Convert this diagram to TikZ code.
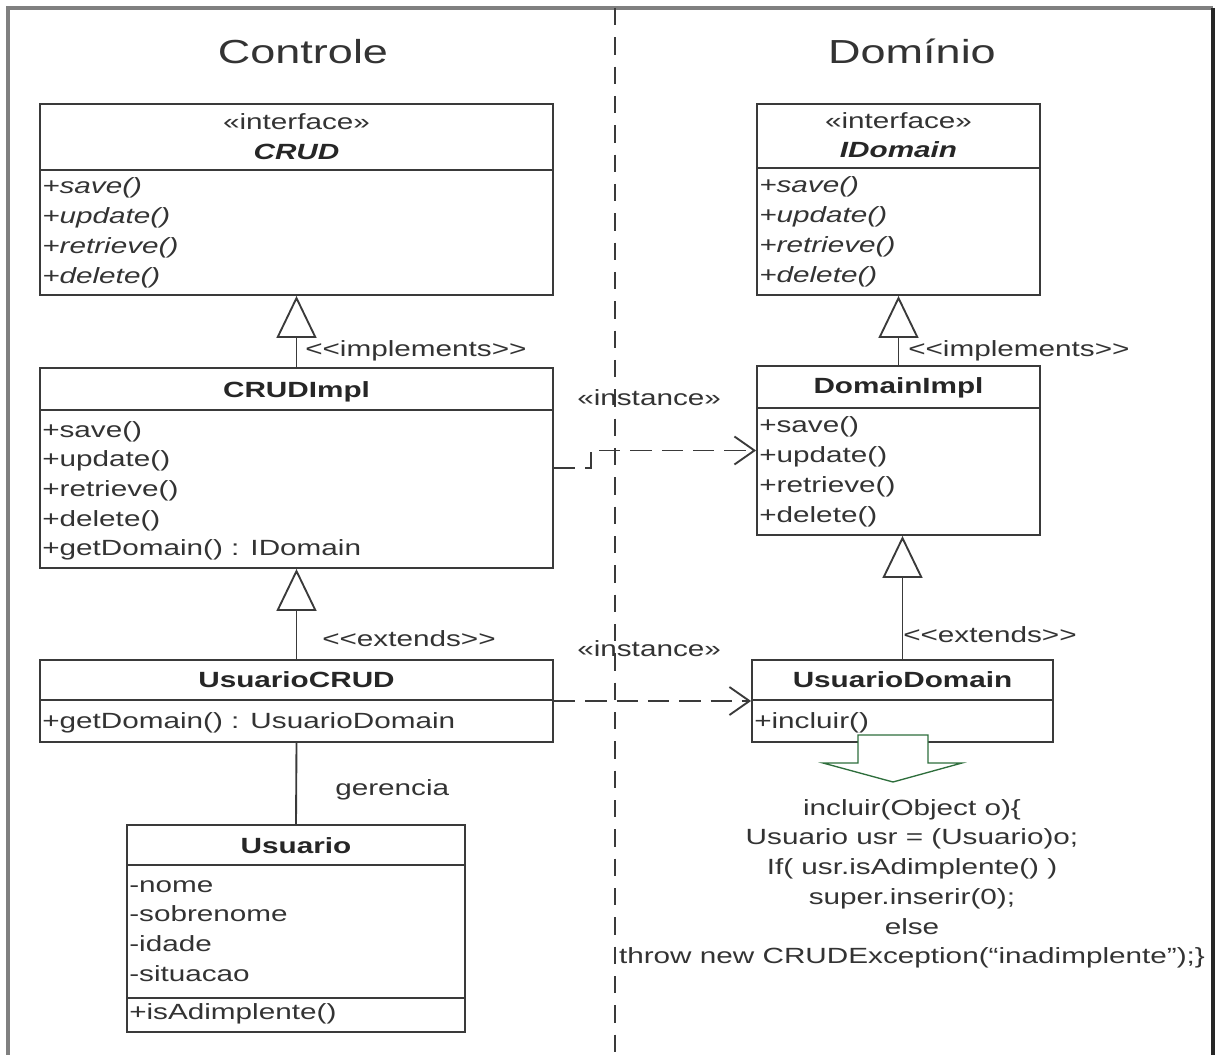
\documentclass[tikz,border=0pt]{standalone}
\usepackage{fontspec}
\setmainfont{Liberation Sans}[FakeStretch=1.35]
\usetikzlibrary{arrows.meta,fit}
\definecolor{ink}{HTML}{333333}
\definecolor{edge}{HTML}{3A3A3A}
\definecolor{framegray}{HTML}{808080}
\definecolor{arrowgreen}{RGB}{46,110,60}
\newcommand{\mfont}{\fontsize{16.5}{22.3}\selectfont}
\newcommand{\tfont}{\fontsize{25}{30}\selectfont}
% doubled angle brackets kept as two separate characters
\newcommand{\dlt}{<\kern0pt<}
\newcommand{\dgt}{>\kern0pt>}

\begin{document}
\begin{tikzpicture}[x=0.75pt,y=-0.75pt,
  cls/.style={draw=edge, line width=1.4pt, inner sep=0pt},
  part/.style={draw=edge, line width=1.4pt},
  mem/.style={anchor=base west, inner sep=0pt, font=\mfont, text=ink},
  head/.style={anchor=base, inner sep=0pt, font=\mfont, text=ink},
  cname/.style={anchor=base, inner sep=0pt, font=\mfont\bfseries, text=black!85},
  lbl/.style={anchor=base west, inner sep=0pt, font=\mfont, text=ink},
  title/.style={anchor=base, inner sep=0pt, font=\tfont, text=ink},
  gen/.style={draw=edge, line width=1.4pt, -{Triangle[open,length=31.5pt,width=30pt]}},
  assoc/.style={draw=edge, line width=1.4pt},
  dep/.style={draw=edge, line width=1.4pt, dash pattern=on 16pt off 7.5pt,
              -{Straight Barb[length=15pt,width=21pt]}},
]
\useasboundingbox (0,0) rectangle (1221,1055);

% outer frame and the dashed separator
\draw[framegray, line width=2.5pt] (8,1055) -- (8,8) -- (1213,8);
\draw[black!85, line width=2.5pt] (1213,8) -- (1213,1055);
\draw[edge, line width=1.5pt, dash pattern=on 13pt off 9pt] (615,8) -- (615,1055);

% column titles
\node[title] (tctl) at (303,64) {Controle};
\node[title] (tdom) at (912,64) {Domínio};

% ---------- Controle ----------
% CRUD interface
\node[cls, fit={(40,104)(553,295)}] (crud) {};
\draw[part] (40,170) -- (553,170);
\node[head] (crud-st) at (296.5,130) {«interface»};
\node[cname, font=\mfont\bfseries\itshape] (crud-n) at (296.5,160) {CRUD};
\foreach \t [count=\i] in {+save(),+update(),+retrieve(),+delete()}
  \node[mem, font=\mfont\itshape] (crud-\i) at (42,{194+29.7*(\i-1)}) {\t};

% CRUDImpl
\node[cls, fit={(40,368)(553,568)}] (crudimpl) {};
\draw[part] (40,410) -- (553,410);
\node[cname] (crudimpl-n) at (296.5,398) {CRUDImpl};
\foreach \t [count=\i] in {+save(),+update(),+retrieve(),+delete(),+getDomain() : IDomain}
  \node[mem] (crudimpl-\i) at (42,{437+29.7*(\i-1)}) {\t};

% UsuarioCRUD
\node[cls, fit={(40,660)(553,742)}] (ucrud) {};
\draw[part] (40,700) -- (553,700);
\node[cname] (ucrud-n) at (296.5,687) {UsuarioCRUD};
\node[mem] (ucrud-1) at (42,728) {+getDomain() : UsuarioDomain};

% Usuario
\node[cls, fit={(127,825)(465,1032)}] (usuario) {};
\draw[part] (127,865) -- (465,865);
\draw[part] (127,998) -- (465,998);
\node[cname] (usuario-n) at (296,853) {Usuario};
\foreach \t [count=\i] in {-nome,-sobrenome,-idade,-situacao}
  \node[mem] (usuario-\i) at (129,{892+29.7*(\i-1)}) {\t};
\node[mem] (usuario-m) at (129,1019) {+isAdimplente()};

% ---------- Domínio ----------
% IDomain interface
\node[cls, fit={(757,104)(1040,295)}] (idom) {};
\draw[part] (757,168) -- (1040,168);
\node[head] (idom-st) at (898.5,129) {«interface»};
\node[cname, font=\mfont\bfseries\itshape] (idom-n) at (898.5,158) {IDomain};
\foreach \t [count=\i] in {+save(),+update(),+retrieve(),+delete()}
  \node[mem, font=\mfont\itshape] (idom-\i) at (759,{193+29.7*(\i-1)}) {\t};

% DomainImpl
\node[cls, fit={(757,366)(1040,535)}] (dimpl) {};
\draw[part] (757,408) -- (1040,408);
\node[cname] (dimpl-n) at (898.5,394) {DomainImpl};
\foreach \t [count=\i] in {+save(),+update(),+retrieve(),+delete()}
  \node[mem] (dimpl-\i) at (759,{433+29.7*(\i-1)}) {\t};

% UsuarioDomain
\node[cls, fit={(752,660)(1053,742)}] (udom) {};
\draw[part] (752,700) -- (1053,700);
\node[cname] (udom-n) at (902.5,687) {UsuarioDomain};
\node[mem] (udom-1) at (754,728) {+incluir()};

% ---------- relations ----------
\draw[gen] (crudimpl.north) -- (crud.south);
\draw[gen] (ucrud.north) -- (crudimpl.south);
\draw[assoc] (ucrud.south) -- (usuario.north);
\draw[gen] (dimpl.north) -- (idom.south);
\draw[gen] (udom.north) -- (udom.north |- dimpl.south);
\draw[dep] (crudimpl.east) -- ++(37,0) |- (dimpl.west);
\draw[dep] (ucrud.east) -- (udom.west);

\node[lbl] (l-impl1) at (305,357) {\dlt implements\dgt};
\node[lbl] (l-impl2) at (908,357) {\dlt implements\dgt};
\node[lbl] (l-ext1) at (322,646) {\dlt extends\dgt};
\node[lbl] (l-ext2) at (903,642) {\dlt extends\dgt};
\node[lbl] (l-ger) at (335,795) {gerencia};
\node[lbl] (l-inst1) at (577,406) {«instance»};
\node[lbl] (l-inst2) at (577,656) {«instance»};

% note arrow and the body of incluir()
\draw[arrowgreen, fill=white, line width=1pt]
  (858,735) -- (928,735) -- (928,763) -- (962,763) -- (893,782)
  -- (823,763) -- (858,763) -- cycle;
\node[anchor=north, inner sep=0pt, align=center, font=\mfont, text=ink] (code) at (912,799)
  {incluir(Object o)\{\\
   Usuario usr = (Usuario)o;\\
   If( usr.isAdimplente() )\\
   super.inserir(0);\\
   else\\
   throw new CRUDException(“inadimplente”);\}};
\end{tikzpicture}
\end{document}
